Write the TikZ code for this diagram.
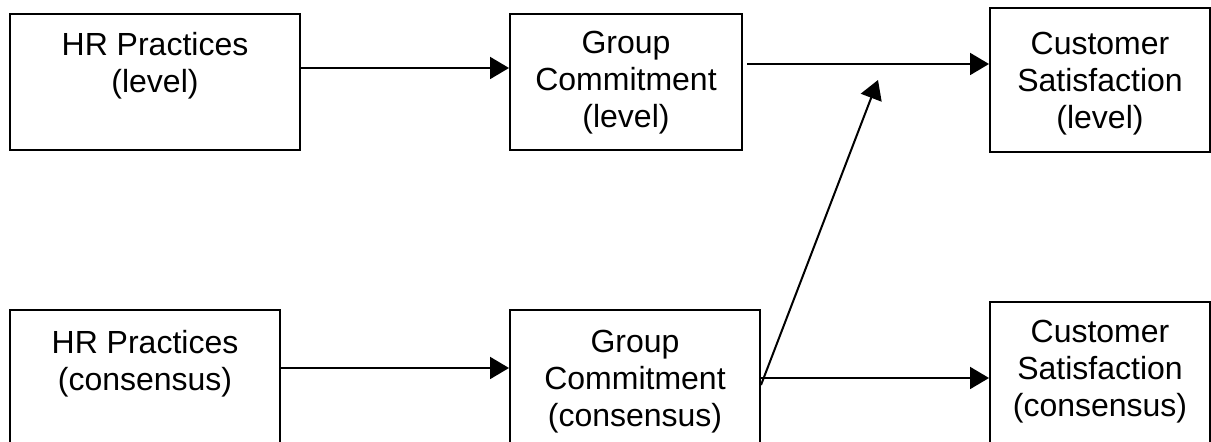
\documentclass[tikz,border=0pt]{standalone}
\usepackage{fontspec}
\setmainfont{Liberation Sans}
\usetikzlibrary{arrows.meta}
\tikzset{
	box/.style={draw, line width=1pt, inner sep=0pt},
	boxtext/.style={anchor=north, inner sep=0pt, align=center, font=\fontsize{16}{18.5}\selectfont},
	conn/.style={line width=1pt, -{Triangle[length=9.5pt, width=11pt]}}
}

\begin{document}
\begin{tikzpicture}[x=0.5pt, y=-0.5pt]
			%%%%% START %%%%%
			\useasboundingbox (0, 0) rectangle (1211, 442);
			
			% top row (level)
			\node[box, minimum width=145pt, minimum height=68pt] (hrlevel) at (155, 82) {};
			\node[box, minimum width=116pt, minimum height=68pt] (gclevel) at (626, 82) {};
			\node[box, minimum width=110pt, minimum height=72pt] (cslevel) at (1100, 80) {};
			
			% bottom row (consensus), cut by the page edge
			\node[box, minimum width=135pt, minimum height=75pt] (hrcons) at (145, 385) {};
			\node[box, minimum width=125pt, minimum height=75pt] (gccons) at (635, 385) {};
			\node[box, minimum width=110pt, minimum height=79pt] (cscons) at (1100, 381) {};
			
			\node[boxtext] (hrleveltext) at ([yshift=-9.5pt]hrlevel.north) {HR Practices\\(level)};
			\node[boxtext] (gcleveltext) at ([yshift=-9pt]gclevel.north) {Group\\Commitment\\(level)};
			\node[boxtext] (csleveltext) at ([yshift=-12.5pt]cslevel.north) {Customer\\Satisfaction\\(level)};
			\node[boxtext] (hrconstext) at ([yshift=-10.5pt]hrcons.north) {HR Practices\\(consensus)};
			\node[boxtext] (gcconstext) at ([yshift=-10.5pt]gccons.north) {Group\\Commitment\\(consensus)};
			\node[boxtext] (csconstext) at ([yshift=-9.5pt]cscons.north) {Customer\\Satisfaction\\(consensus)};
			
			% arrows
			\draw[conn] ([yshift=7pt]hrlevel.east) -- ([yshift=7pt]gclevel.west);
			\draw[conn] ([xshift=2pt, yshift=9pt]gclevel.east) -- ([yshift=9pt]gclevel.east -| cslevel.west);
			\draw[conn] ([yshift=8.5pt]hrcons.east) -- ([yshift=8.5pt]hrcons.east -| gccons.west);
			\draw[conn] ([yshift=3.5pt]gccons.east) -- ([yshift=3.5pt]gccons.east -| cscons.west);
			
			\coordinate (diagtip) at (878, 80);
			\draw[conn] (gccons.east) -- (diagtip);
			
			%%%%% END %%%%%
\end{tikzpicture}
\end{document}
